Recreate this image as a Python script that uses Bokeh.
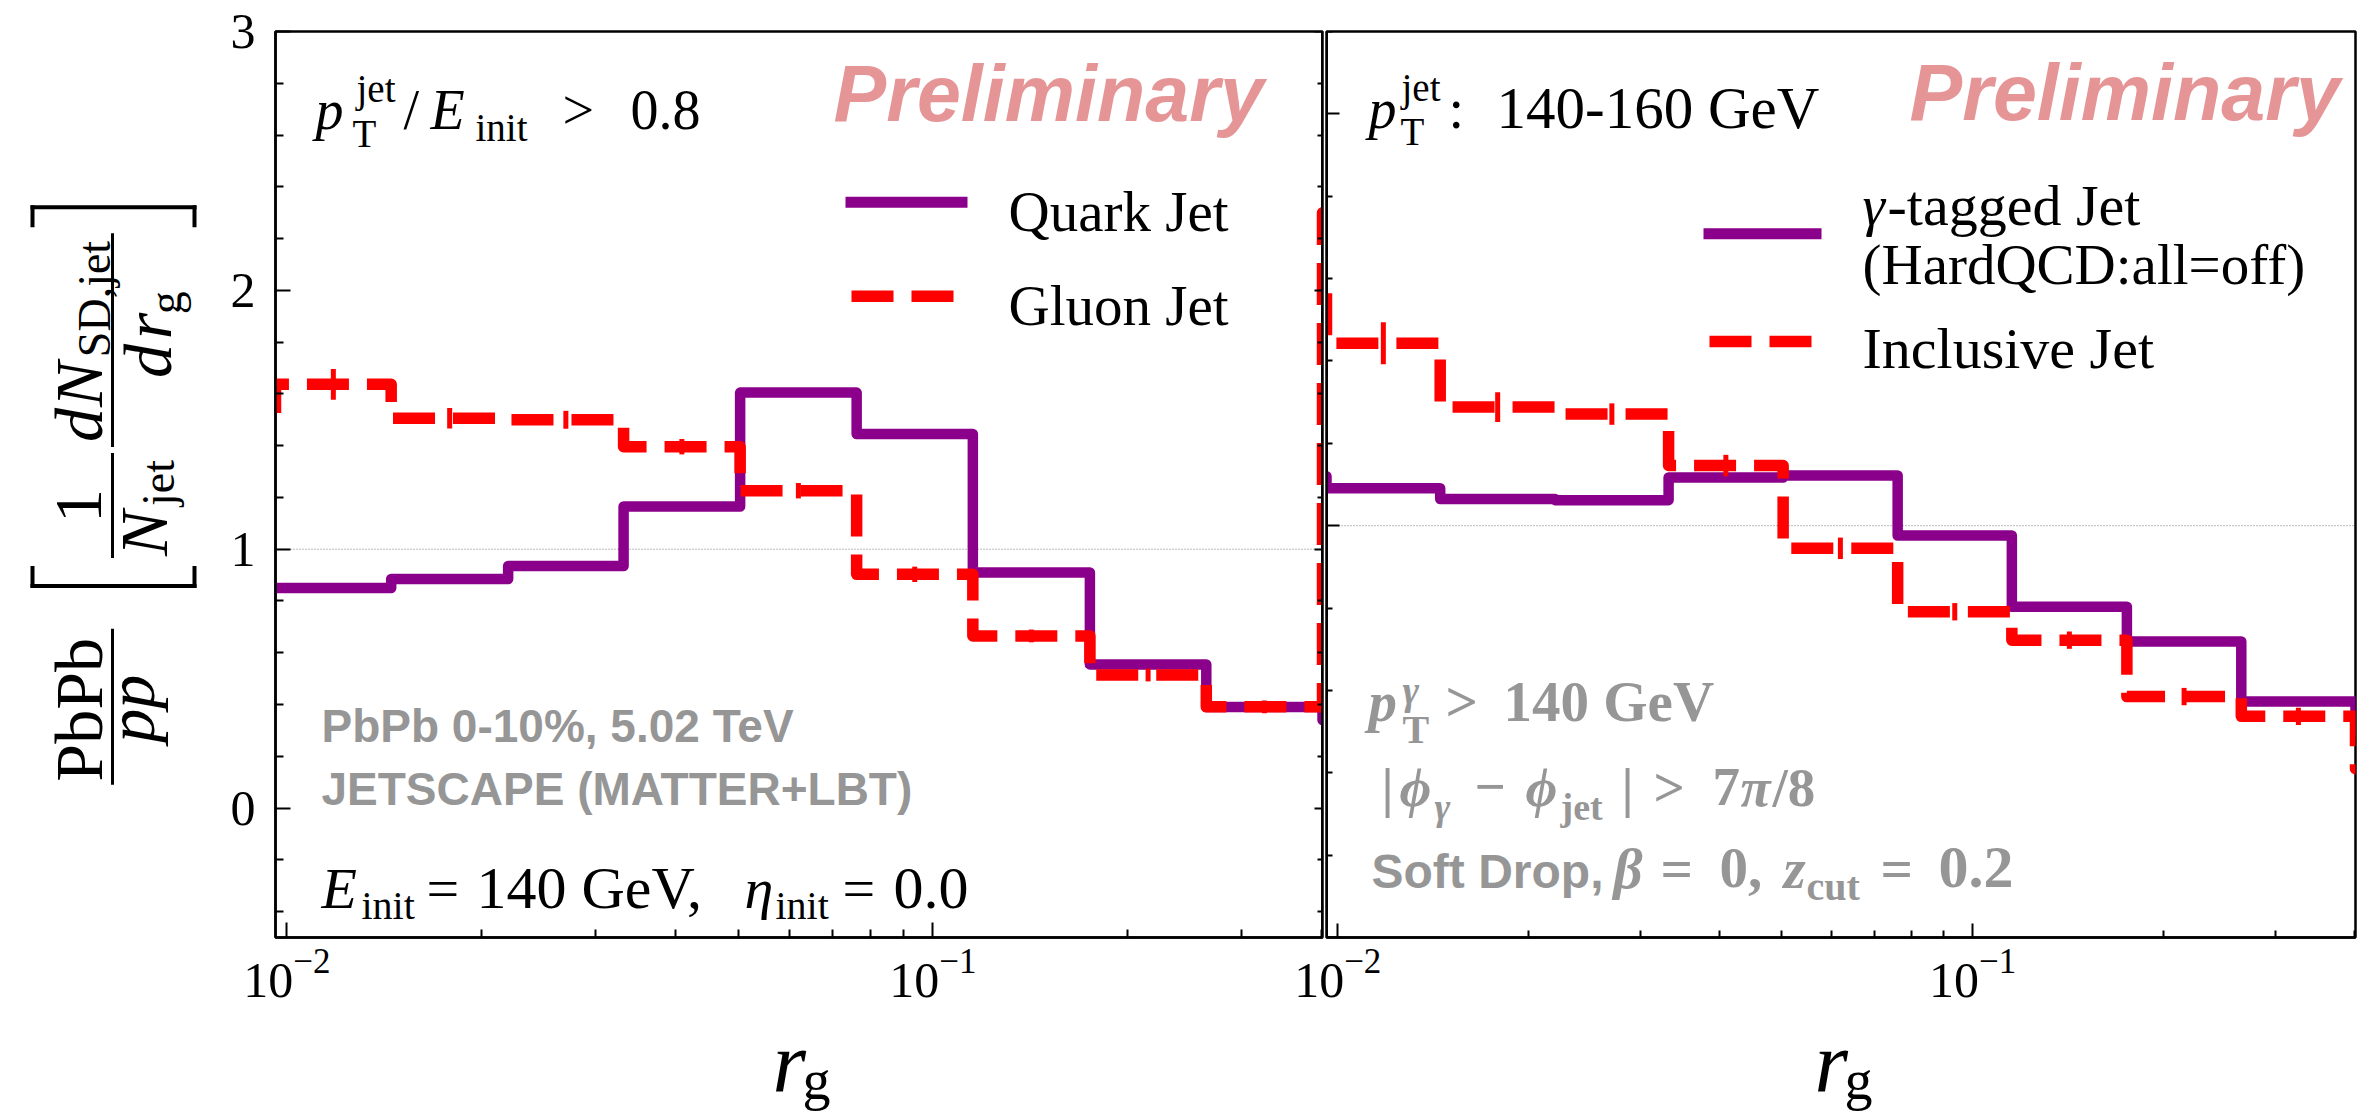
import math
from bokeh.plotting import figure
from bokeh.layouts import row, column
from bokeh.models import Label, Span, FixedTicker, LinearAxis, Range1d
from bokeh.embed import file_html
from bokeh.resources import INLINE

# ---------------- data ----------------
rg_edges = [0.0096, 0.0145, 0.0220, 0.0332, 0.0503, 0.0762, 0.1153, 0.1750, 0.2650, 0.4010]

# left panel: quark vs gluon jets
quark_jet = [0.850, 0.885, 0.935, 1.165, 1.605, 1.445, 0.910, 0.555, 0.390]
quark_err = [0.004, 0.004, 0.004, 0.005, 0.006, 0.006, 0.005, 0.004, 0.004]
gluon_jet = [1.637, 1.506, 1.500, 1.396, 1.226, 0.903, 0.665, 0.514, 0.391]
gluon_err = [0.050, 0.030, 0.025, 0.020, 0.020, 0.020, 0.015, 0.015, 0.015]
quark_beyond = [0.85, 0.34]   # neighbouring bins just outside the shown range
gluon_beyond = [1.51, 2.30]

# right panel: gamma-tagged vs inclusive jets
gamma_jet = [1.091, 1.065, 1.062, 1.117, 1.122, 0.976, 0.803, 0.719, 0.573]
gamma_err = [0.003, 0.003, 0.003, 0.003, 0.003, 0.003, 0.003, 0.003, 0.003]
incl_jet = [1.443, 1.288, 1.271, 1.146, 0.945, 0.791, 0.722, 0.585, 0.537]
incl_err = [0.045, 0.030, 0.020, 0.020, 0.020, 0.015, 0.015, 0.015, 0.015]
gamma_beyond = [1.12, 0.50]
incl_beyond = [1.58, 0.41]

x_major = [0.01, 0.1]
x_minor = [0.02, 0.03, 0.04, 0.05, 0.06, 0.07, 0.08, 0.09, 0.2, 0.3, 0.4]
y_major_left = [0, 1, 2, 3]
y_minor_left = [-0.4, -0.2, 0.2, 0.4, 0.6, 0.8, 1.2, 1.4, 1.6, 1.8, 2.2, 2.4, 2.6, 2.8]
y_major_right = [0, 1, 2]
y_minor_right = [0.2, 0.4, 0.6, 0.8, 1.2, 1.4, 1.6, 1.8, 2.2]

# ---------------- style / geometry ----------------
PURPLE = "#8B008B"
RED = "#FF0000"
GRAY = "#969696"
PINK = "#E69597"
SERIF = "Liberation Serif"
SANS = "Liberation Sans"
DASH = "42 18"
BL = 0.34                        # baseline -> "middle" anchor shift, in em

PAGE_W, PAGE_H = 2361, 1112
TOP_H = 1030                     # height of the row holding the two panels
XLAB_TOP = 1000                  # page y where the bottom title strip starts
YLAB_W = 200                     # strip left of the left panel (y-axis title)
X_LO, X_HI = 0.0096, 0.401
L_FRAME = (275, 1322, 30, 937)   # page pixels: left, right, top, bottom
R_FRAME = (1326, 2355, 31, 940)
L_Y = (-0.5, 3.0)
R_Y = (0.0, 2.2)
L_W = 1324 - YLAB_W
R_START = 1264
R_W = PAGE_W - R_START


def make_conv(frame, yr):
    fl, fr, ft, fb = frame
    a, b = math.log10(X_LO), math.log10(X_HI)

    def conv(px, py):
        x = 10 ** (a + (px - fl) / (fr - fl) * (b - a))
        y = yr[1] - (py - ft) / (fb - ft) * (yr[1] - yr[0])
        return x, y
    return conv


def make_fig(width, frame, yr, left_px, y_axis=True):
    fl, fr, ft, fb = frame
    p = figure(width=width, height=TOP_H, x_axis_type="log",
               x_range=Range1d(X_LO, X_HI), y_range=Range1d(*yr),
               y_axis_location="left" if y_axis else None,
               output_backend="svg", toolbar_location=None,
               min_border_left=fl - left_px, min_border_right=left_px + width - fr,
               min_border_top=ft, min_border_bottom=TOP_H - fb)
    p.xgrid.visible = False
    p.ygrid.visible = False
    p.outline_line_color = "black"
    p.outline_line_width = 2.5
    p.background_fill_color = "white"
    return p


def pixel_fig(width, height, x0, frame_top, frame_bottom, page_top, transparent=False):
    """Plain strip without axes; data units = page pixels inside its frame."""
    fh = frame_bottom - frame_top
    p = figure(width=width, height=height, x_range=Range1d(x0, x0 + width),
               y_range=Range1d(0, fh), x_axis_location=None, y_axis_location=None,
               output_backend="svg", toolbar_location=None,
               min_border_left=0, min_border_right=0,
               min_border_top=frame_top - page_top,
               min_border_bottom=page_top + height - frame_bottom)
    p.xgrid.visible = False
    p.ygrid.visible = False
    p.outline_line_color = None
    if transparent:
        p.background_fill_color = None
        p.border_fill_color = None
    else:
        p.background_fill_color = "white"
        p.border_fill_color = "white"

    def conv(px, py):
        return px, frame_bottom - py
    return p, conv


def style_axis(ax, major, minor, t_in, m_in, standoff):
    ax.ticker = FixedTicker(ticks=major, minor_ticks=minor)
    ax.major_tick_in = t_in
    ax.major_tick_out = 0
    ax.minor_tick_in = m_in
    ax.minor_tick_out = 0
    ax.major_tick_line_width = 2
    ax.minor_tick_line_width = 2
    ax.major_tick_line_color = "black"
    ax.minor_tick_line_color = "black"
    ax.axis_line_width = 2.5
    ax.axis_line_color = "black"
    ax.major_label_text_font = SERIF
    ax.major_label_text_font_size = "50px"
    ax.major_label_text_color = "black"
    ax.major_label_standoff = standoff


def tick_only_axes(p, side, fixed, major, minor, major_len, minor_len):
    """Unlabelled tick rows drawn at a fixed position (frame edge)."""
    for pos, ln in ((major, major_len), (minor, minor_len)):
        ax = LinearAxis(ticker=FixedTicker(ticks=[], minor_ticks=pos), fixed_location=fixed)
        ax.major_tick_in = 0
        ax.major_tick_out = 0
        ax.minor_tick_in = ln
        ax.minor_tick_out = 0
        ax.minor_tick_line_width = 2
        ax.minor_tick_line_color = "black"
        ax.axis_line_width = 2.5
        ax.axis_line_color = "black"
        p.add_layout(ax, side)


def put(p, conv, px, py, text, size, style="normal", color="black", font=SERIF,
        align="left", rotated=False):
    """(px, py): start of the text on its baseline, in page pixels."""
    if rotated:
        px = px - BL * size
    else:
        py = py - BL * size
    x, y = conv(px, py)
    p.add_layout(Label(x=x, y=y, text=text, text_font=font, text_font_size=f"{size}px",
                       text_font_style=style, text_color=color, text_align=align,
                       text_baseline="middle", angle=math.pi / 2 if rotated else 0.0))


def draw_steps(p, values, beyond, errs, color, dash, width):
    ratio = rg_edges[1] / rg_edges[0]
    xs = [rg_edges[0] / ratio] + rg_edges + [rg_edges[-1] * ratio]
    ys = [beyond[0]] + values + [beyond[1], beyond[1]]
    p.step(xs, ys, mode="after", line_color=color, line_width=width,
           line_dash=dash, line_join="round")
    centers = [math.sqrt(a * b) for a, b in zip(rg_edges[:-1], rg_edges[1:])]
    p.segment(x0=centers, x1=centers,
              y0=[v - e for v, e in zip(values, errs)],
              y1=[v + e for v, e in zip(values, errs)],
              line_color=color, line_width=5, line_cap="square")


def legend_line(p, conv, x0, x1, py, color, dash, width):
    a = conv(x0, py)
    b = conv(x1, py)
    p.line([a[0], b[0]], [a[1], b[1]], line_color=color, line_width=width, line_dash=dash)


# ================= left panel =================
lc = make_conv(L_FRAME, L_Y)
p1 = make_fig(L_W, L_FRAME, L_Y, YLAB_W)
style_axis(p1.xaxis[0], x_major, x_minor, 15, 8, 12)
style_axis(p1.yaxis[0], y_major_left, y_minor_left, 15, 8, 20)
tick_only_axes(p1, "right", X_HI, y_major_left, y_minor_left, 8, 5)
p1.add_layout(Span(location=1, dimension="width", line_color="#777777", line_width=1,
                   line_dash="1 2", level="underlay"))

draw_steps(p1, quark_jet, quark_beyond, quark_err, PURPLE, "solid", 10.5)
draw_steps(p1, gluon_jet, gluon_beyond, gluon_err, RED, DASH, 11.5)

put(p1, lc, 315, 128, "p", 56, "italic")
put(p1, lc, 356, 100, "jet", 39)
put(p1, lc, 352, 145, "T", 39)
put(p1, lc, 403, 128, "/", 56)
put(p1, lc, 430, 128, "E", 56, "italic")
put(p1, lc, 475, 139, "init", 39)
put(p1, lc, 562, 128, ">", 56)
put(p1, lc, 630, 128, "0.8", 56)
put(p1, lc, 833, 119, "Preliminary", 79, "bold italic", PINK, SANS)

legend_line(p1, lc, 845, 967, 201, PURPLE, "solid", 11)
legend_line(p1, lc, 851, 957, 295, RED, DASH, 11.5)
put(p1, lc, 1008, 230, "Quark Jet", 57)
put(p1, lc, 1008, 324, "Gluon Jet", 57)

put(p1, lc, 321, 741, "PbPb 0-10%, 5.02 TeV", 46, "bold", GRAY, SANS)
put(p1, lc, 321, 804, "JETSCAPE (MATTER+LBT)", 46, "bold", GRAY, SANS)

put(p1, lc, 321, 908, "E", 58, "italic")
put(p1, lc, 361, 919, "init", 40)
put(p1, lc, 426, 908, "=", 58)
put(p1, lc, 476, 908, "140 GeV,", 60)
put(p1, lc, 744, 908, "η", 58, "italic")
put(p1, lc, 775, 919, "init", 40)
put(p1, lc, 842, 908, "=", 58)
put(p1, lc, 893, 908, "0.0", 60)

# ================= right panel =================
rc = make_conv(R_FRAME, R_Y)
p2 = make_fig(R_W, R_FRAME, R_Y, R_START, y_axis=False)
p2.border_fill_color = None
p2.margin = (0, 0, 0, -(YLAB_W + L_W - R_START))
style_axis(p2.xaxis[0], x_major, x_minor, 14, 7, 12)
tick_only_axes(p2, "left", X_LO, y_major_right, y_minor_right, 13, 6)
p2.add_layout(Span(location=1, dimension="width", line_color="#777777", line_width=1,
                   line_dash="1 2", level="underlay"))

draw_steps(p2, gamma_jet, gamma_beyond, gamma_err, PURPLE, "solid", 10.5)
draw_steps(p2, incl_jet, incl_beyond, incl_err, RED, DASH, 11.5)

put(p2, rc, 1368, 128, "p", 56, "italic")
put(p2, rc, 1401, 100, "jet", 39)
put(p2, rc, 1400, 145, "T", 39)
put(p2, rc, 1448, 128, ":", 56)
put(p2, rc, 1496, 128, "140-160 GeV", 59)
put(p2, rc, 1909, 119, "Preliminary", 79, "bold italic", PINK, SANS)

legend_line(p2, rc, 1703, 1821, 234, PURPLE, "solid", 11)
legend_line(p2, rc, 1709, 1814, 342, RED, DASH, 11.5)
put(p2, rc, 1862, 225, "γ", 57, "italic")
put(p2, rc, 1887, 225, "-tagged Jet", 58)
put(p2, rc, 1862, 284, "(HardQCD:all=off)", 57)
put(p2, rc, 1862, 369, "Inclusive Jet", 58)

put(p2, rc, 1368, 723, "p", 57, "bold italic", GRAY)
put(p2, rc, 1402, 706, "γ", 40, "bold italic", GRAY)
put(p2, rc, 1402, 745, "T", 40, "bold", GRAY)
put(p2, rc, 1445, 723, ">", 57, "bold", GRAY)
put(p2, rc, 1503, 723, "140 GeV", 57, "bold", GRAY)

put(p2, rc, 1381, 808, "|", 55, "bold", GRAY)
put(p2, rc, 1399, 808, "ϕ", 55, "bold italic", GRAY)
put(p2, rc, 1434, 822, "γ", 38, "bold italic", GRAY)
put(p2, rc, 1474, 808, "−", 55, "bold", GRAY)
put(p2, rc, 1525, 808, "ϕ", 55, "bold italic", GRAY)
put(p2, rc, 1560, 822, "jet", 38, "bold", GRAY)
put(p2, rc, 1621, 808, "|", 55, "bold", GRAY)
put(p2, rc, 1653, 808, ">", 55, "bold", GRAY)
put(p2, rc, 1712, 808, "7", 55, "bold", GRAY)
put(p2, rc, 1740, 808, "π", 55, "bold italic", GRAY)
put(p2, rc, 1772, 808, "/8", 55, "bold", GRAY)

put(p2, rc, 1371, 890, "Soft Drop,", 48, "bold", GRAY, SANS)
put(p2, rc, 1613, 890, "β", 57, "bold italic", GRAY)
put(p2, rc, 1660, 890, "=", 57, "bold", GRAY)
put(p2, rc, 1719, 890, "0,", 57, "bold", GRAY)
put(p2, rc, 1783, 890, "z", 57, "bold italic", GRAY)
put(p2, rc, 1806, 902, "cut", 40, "bold", GRAY)
put(p2, rc, 1880, 890, "=", 57, "bold", GRAY)
put(p2, rc, 1938, 890, "0.2", 60, "bold", GRAY)

# ================= y-axis title strip (left) =================
py_fig, yc = pixel_fig(YLAB_W, TOP_H, 0, L_FRAME[2], L_FRAME[3], 0)
# rotated pieces: (baseline x, start y at the bottom of the piece, text, size, style)
ylabel_pieces = [
    (102, 781, "PbPb", 68, "normal"),
    (154, 742, "pp", 68, "italic"),
    (102, 522, "1", 68, "normal"),
    (167, 555, "N", 68, "italic"),
    (174, 505, "jet", 46, "normal"),
    (102, 441, "d", 68, "italic"),
    (102, 406, "N", 68, "italic"),
    (110, 356, "SD,jet", 46, "normal"),
    (171, 377, "d", 68, "italic"),
    (171, 338, "r", 68, "italic"),
    (181, 313, "g", 46, "normal"),
]
for bx, sy, t, s, st in ylabel_pieces:
    put(py_fig, yc, bx, sy, t, s, st, rotated=True)


def strokes(p, conv, boxes):
    ls, rs, bs, ts = [], [], [], []
    for x0, x1, y0, y1 in boxes:
        a = conv(x0, y1)
        b = conv(x1, y0)
        ls.append(a[0]); rs.append(b[0]); bs.append(a[1]); ts.append(b[1])
    p.quad(left=ls, right=rs, bottom=bs, top=ts, fill_color="black", line_color=None)


strokes(py_fig, yc, [
    (110.5, 113.5, 628, 784), (110.5, 113.5, 452, 557), (110.5, 113.5, 232, 446),   # fraction bars
    (30, 196, 583, 587), (30, 34, 565, 587), (192, 196, 565, 587),                  # left bracket
    (30, 196, 204, 208), (30, 34, 204, 226), (192, 196, 204, 226),                  # right bracket
])

# ================= x-axis title strip (bottom, overlapping the row by 30 px) =================
px_fig, xc = pixel_fig(PAGE_W, PAGE_H - XLAB_TOP, 0, XLAB_TOP, PAGE_H, XLAB_TOP, transparent=True)
px_fig.margin = (-(TOP_H - XLAB_TOP), 0, 0, 0)
put(px_fig, xc, 772, 1092, "r", 86, "italic")
put(px_fig, xc, 802, 1099, "g", 56)
put(px_fig, xc, 1814, 1092, "r", 86, "italic")
put(px_fig, xc, 1844, 1099, "g", 56)

layout = column(row(py_fig, p1, p2), px_fig)
open("out.html", "w").write(file_html(layout, INLINE))
